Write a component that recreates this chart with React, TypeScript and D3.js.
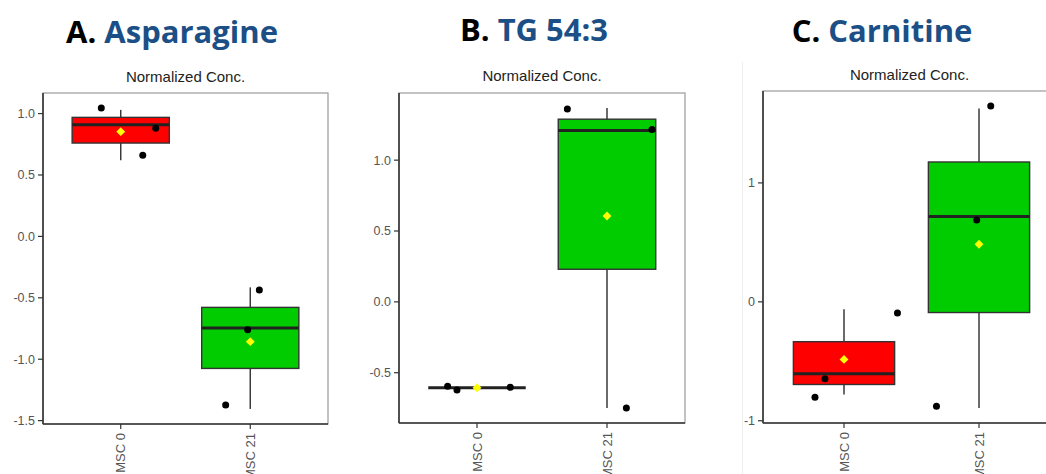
import React from "react";
import * as d3 from "d3";

// ---------- data ----------
const groups = ["MSC 0", "MSC 21"];
const panelLetters = ["A.", "B.", "C."];
const panelNames = ["Asparagine", "TG 54:3", "Carnitine"];
const subtitle = "Normalized Conc.";

// per panel, per group
const whiskerLow = [[0.62, -1.405], [-0.606, -0.749], [-0.779, -0.892]];
const q1 = [[0.76, -1.075], [-0.606, 0.23], [-0.695, -0.09]];
const median = [[0.91, -0.746], [-0.606, 1.209], [-0.605, 0.717]];
const q3 = [[0.969, -0.578], [-0.606, 1.289], [-0.335, 1.176]];
const whiskerHigh = [[1.03, -0.415], [-0.606, 1.368], [-0.062, 1.626]];
const means = [[0.853, -0.857], [-0.606, 0.606], [-0.484, 0.484]];

const pointValues = [
  [[1.045, 0.88, 0.66], [-0.437, -0.76, -1.373]],
  [[-0.596, -0.622, -0.603], [1.361, 1.216, -0.749]],
  [[-0.802, -0.647, -0.093], [1.646, 0.689, -0.878]],
];
const pointJitter = [
  [[-0.15, 0.27, 0.17], [0.07, -0.02, -0.19]],
  [[-0.226, -0.154, 0.256], [-0.305, 0.346, 0.149]],
  [[-0.215, -0.141, 0.396], [0.087, -0.017, -0.315]],
];

const tickValues = [
  [1.0, 0.5, 0.0, -0.5, -1.0, -1.5],
  [1.0, 0.5, 0.0, -0.5],
  [1, 0, -1],
];
const tickFormats = [".1f", ".1f", "d"];
const groupColors = ["#ff0000", "#00cc00"];

// ---------- layout ----------
const W = 1046;
const H = 474;
const panels = [
  { left: 43, right: 328, top: 93, bottom: 424, titleX: 172, titleY: 43, subY: 82 },
  { left: 399, right: 685, top: 93, bottom: 423, titleX: 534, titleY: 41, subY: 81 },
  { left: 763, right: 1060, top: 91, bottom: 423, titleX: 882, titleY: 42, subY: 80 },
];

const AXIS_FONT = "'Liberation Sans', Arial, sans-serif";
const TITLE_FONT = "'Open Sans', 'Noto Sans', sans-serif";

function Panel({ i }: { i: number }) {
  const p = panels[i];
  const all: number[] = [
    ...whiskerLow[i], ...whiskerHigh[i],
    ...pointValues[i].flat(), ...q1[i], ...q3[i],
  ];
  const [mn, mx] = d3.extent(all) as [number, number];
  const pad = (mx - mn) * 0.05;
  const y = d3.scaleLinear().domain([mn - pad, mx + pad]).range([p.bottom, p.top]);
  const x = d3.scaleLinear().domain([0.4, 2.6]).range([p.left, p.right]);
  const unit = x(1) - x(0);
  const boxW = unit * 0.75;
  const fmt = d3.format(tickFormats[i]);
  const diamond = d3.symbol().type(d3.symbolDiamond2).size(50)()!;
  const clipId = `clip${i}`;

  return (
    <g>
      <defs>
        <clipPath id={clipId}>
          <rect x={p.left} y={p.top - 5} width={p.right - p.left} height={p.bottom - p.top + 10} />
        </clipPath>
      </defs>
      {/* title */}
      <text x={p.titleX} y={p.titleY} textAnchor="middle" fontFamily={TITLE_FONT}
        fontWeight={700} fontSize={31}>
        <tspan fill="#000">{panelLetters[i]} </tspan>
        <tspan fill="#1b4f86">{panelNames[i]}</tspan>
      </text>
      <text x={(p.left + Math.min(p.right, W)) / 2 + (i === 2 ? 5 : 0)} y={p.subY} textAnchor="middle"
        fontFamily={AXIS_FONT} fontSize={15} fill="#222">{subtitle}</text>

      {/* panel border */}
      <rect x={p.left} y={p.top} width={p.right - p.left} height={p.bottom - p.top}
        fill="#fff" stroke="#9a9a9a" strokeWidth={1.2} />

      <g clipPath={`url(#${clipId})`}>
        {groups.map((g, j) => {
          const cx = x(j + 1);
          return (
            <g key={g}>
              <line x1={cx} x2={cx} y1={y(whiskerLow[i][j])} y2={y(whiskerHigh[i][j])}
                stroke="#3a3a3a" strokeWidth={1.5} />
              <rect x={cx - boxW / 2} width={boxW} y={y(q3[i][j])}
                height={Math.max(0, y(q1[i][j]) - y(q3[i][j]))}
                fill={groupColors[j]} stroke="#333" strokeWidth={1.4} />
              <line x1={cx - boxW / 2} x2={cx + boxW / 2} y1={y(median[i][j])} y2={y(median[i][j])}
                stroke="#222" strokeWidth={3} />
              {pointValues[i][j].map((v, k) => (
                <circle key={k} cx={x(j + 1 + pointJitter[i][j][k])} cy={y(v)} r={3.5} fill="#000" />
              ))}
              <path d={diamond} transform={`translate(${cx},${y(means[i][j])})`} fill="#ffff00" />
            </g>
          );
        })}
      </g>

      {/* axis lines */}
      <line x1={p.left} x2={p.left} y1={p.top} y2={p.bottom} stroke="#333" strokeWidth={1.6} />
      <line x1={p.left} x2={p.right} y1={p.bottom} y2={p.bottom} stroke="#333" strokeWidth={1.6} />

      {/* y ticks */}
      {tickValues[i].map((t) => (
        <g key={t} transform={`translate(${p.left},${y(t)})`}>
          <line x1={-5} x2={0} stroke="#333" strokeWidth={1.2} />
          <text x={-8} dy="0.35em" textAnchor="end" fontFamily={AXIS_FONT} fontSize={12.5}
            fill="#555">{fmt(t).replace("\u2212", "-")}</text>
        </g>
      ))}
      {/* x ticks */}
      {groups.map((g, j) => (
        <g key={g} transform={`translate(${x(j + 1)},${p.bottom})`}>
          <line y1={0} y2={5} stroke="#333" strokeWidth={1.2} />
          <text transform="translate(0,9) rotate(-90)" dy="0.35em" textAnchor="end"
            fontFamily={AXIS_FONT} fontSize={13} fill="#555">{g}</text>
        </g>
      ))}
    </g>
  );
}

export default function App() {
  return (
    <svg width={W} height={H} viewBox={`0 0 ${W} ${H}`}
      style={{ position: "absolute", left: 0, top: 0, background: "#fff" }}>
      <rect width={W} height={H} fill="#fff" />
      <line x1={742.5} x2={742.5} y1={62} y2={H} stroke="#eeeeee" strokeWidth={1} />
      {panels.map((_, i) => <Panel key={i} i={i} />)}
    </svg>
  );
}
